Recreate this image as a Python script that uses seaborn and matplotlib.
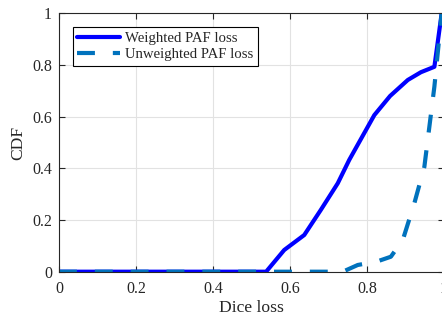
import matplotlib
matplotlib.use("Agg")
import matplotlib.pyplot as plt
import seaborn as sns
import pandas as pd

# Data
weighted_x = [0.0, 0.538, 0.585, 0.637, 0.68, 0.724, 0.754, 0.819, 0.86, 0.906, 0.94, 0.975, 0.994, 1.0]
weighted_y = [0.0, 0.0, 0.084, 0.142, 0.239, 0.342, 0.433, 0.606, 0.68, 0.742, 0.772, 0.793, 1.0, 1.0]
unweighted_x = [0.0, 0.737, 0.776, 0.825, 0.862, 0.893, 0.923, 0.949, 0.975, 0.994, 1.0]
unweighted_y = [0.0, 0.0, 0.026, 0.039, 0.058, 0.123, 0.265, 0.406, 0.716, 1.0, 1.0]
series_labels = ["Weighted PAF loss", "Unweighted PAF loss"]
x_ticks = [0, 0.2, 0.4, 0.6, 0.8, 1]
y_ticks = [0, 0.2, 0.4, 0.6, 0.8, 1]
x_label = "Dice loss"
y_label = "CDF"

sns.set_style("ticks")
plt.rcParams["font.family"] = ["Liberation Serif", "DejaVu Serif"]

df = pd.concat([
    pd.DataFrame({"x": weighted_x, "y": weighted_y, "s": series_labels[0]}),
    pd.DataFrame({"x": unweighted_x, "y": unweighted_y, "s": series_labels[1]}),
], ignore_index=True)

fig = plt.figure(figsize=(4.42, 3.2), dpi=100)
ax = fig.add_axes([59 / 442, 48.3 / 320, 385 / 442, 258.4 / 320])

sns.lineplot(data=df, x="x", y="y", hue="s", style="s",
             palette={series_labels[0]: "#0000FF", series_labels[1]: "#0072BD"},
             dashes={series_labels[0]: "", series_labels[1]: (4.3, 4.3)},
             linewidth=3.0, sort=False, estimator=None, ax=ax, legend=True)

ax.set_xlim(0, 1)
ax.set_ylim(0, 1)
ax.set_xticks(x_ticks)
ax.set_yticks(y_ticks)
ax.set_xticklabels([f"{t:g}" for t in x_ticks])
ax.set_yticklabels([f"{t:g}" for t in y_ticks])
ax.grid(True, color="#e2e2e2", linewidth=0.8)
ax.set_axisbelow(True)
for sp in ax.spines.values():
    sp.set_visible(True)
    sp.set_color("#262626")
    sp.set_linewidth(0.8)
ax.tick_params(direction="in", length=4, width=0.8, top=True, right=True,
               labelsize=11.5, colors="#262626")
ax.tick_params(axis="x", pad=7.0)
ax.tick_params(axis="y", pad=5.0)
ax.set_xlabel(x_label, fontsize=12.6, color="#262626", labelpad=1.5)
ax.set_ylabel(y_label, fontsize=12.6, color="#262626", labelpad=4.5)

handles, labels = ax.get_legend_handles_labels()
leg = ax.legend(handles, labels, loc="upper left", bbox_to_anchor=(0.036, 0.947),
                borderaxespad=0, fancybox=False, framealpha=1, edgecolor="black",
                fontsize=10.6, handlelength=2.9, handletextpad=0.35, borderpad=0.3,
                labelspacing=0.22)
leg.get_frame().set_linewidth(0.8)

fig.savefig("out.png", dpi=100)
